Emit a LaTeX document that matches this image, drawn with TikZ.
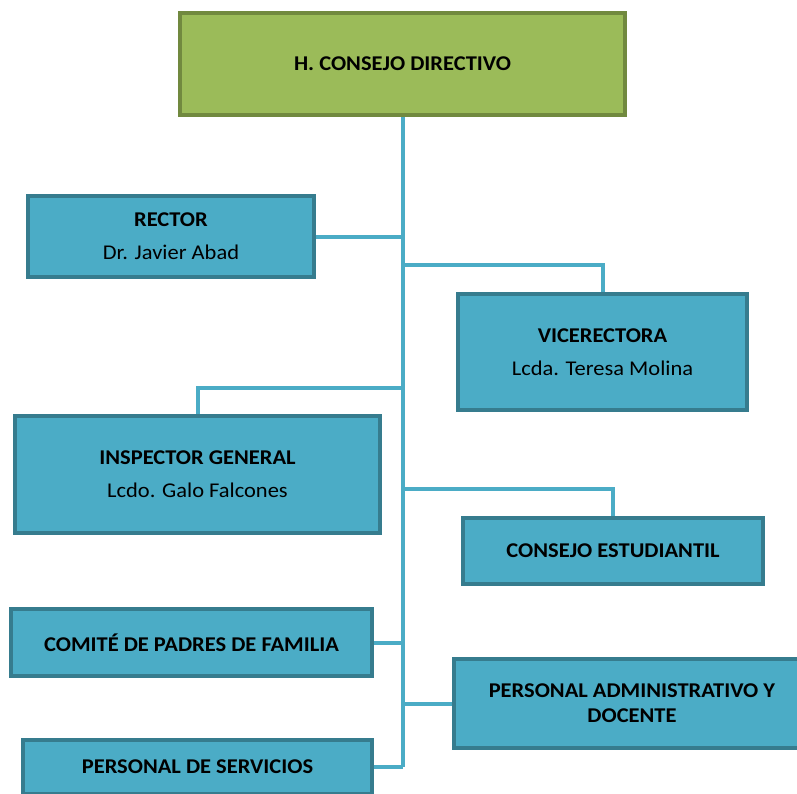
\documentclass[tikz,border=0pt]{standalone}
\usepackage{fontspec}
\setmainfont{Carlito}[FakeStretch=1.07]
\usepackage{tikz}

\definecolor{juntafondo}{HTML}{9BBB59}
\definecolor{juntaborde}{HTML}{71893F}
\definecolor{cargofondo}{HTML}{4BACC6}
\definecolor{cargoborde}{HTML}{367C8E}
\definecolor{enlacecolor}{HTML}{4BACC6}

\begin{document}
\begin{tikzpicture}[
  x=1pt, y=-1pt,
  cargo/.style={rectangle, draw=cargoborde, fill=cargofondo, line width=4pt,
    align=center, inner sep=0pt, font=\fontsize{21}{33}\selectfont},
  junta/.style={cargo, draw=juntaborde, fill=juntafondo},
  enlace/.style={draw=enlacecolor, line width=4pt}
]
\useasboundingbox (0,0) rectangle (797,793);

\node[junta, minimum width=445, minimum height=102] (consejo) at (402.5, 64) {\textbf{H. CONSEJO DIRECTIVO}};

\node[cargo, minimum width=286, minimum height=81] (rector) at (171, 236.5) {\textbf{RECTOR}\\Dr. Javier Abad};
\node[cargo, minimum width=289, minimum height=116] (vice) at (602.5, 352) {\textbf{VICERECTORA}\\Lcda. Teresa Molina};
\node[cargo, minimum width=365, minimum height=117] (inspector) at (197.5, 474.5) {\textbf{INSPECTOR GENERAL}\\Lcdo. Galo Falcones};
\node[cargo, minimum width=300, minimum height=66] (estudiantil) at (613, 551) {\textbf{CONSEJO ESTUDIANTIL}};
\node[cargo, minimum width=361, minimum height=67] (comite) at (191.5, 642.5) {\textbf{COMITÉ DE PADRES DE FAMILIA}};
\node[cargo, minimum width=356, minimum height=89, font=\fontsize{21}{25}\selectfont] (admin) at (632, 703.5) {\textbf{PERSONAL ADMINISTRATIVO Y}\\\textbf{DOCENTE}};
\node[cargo, minimum width=349, minimum height=54] (servicios) at (197.5, 767) {\textbf{PERSONAL DE SERVICIOS}};

\draw[enlace] (consejo.south) -- (consejo.south |- servicios.east);

\foreach \n/\lado in {rector/east, comite/east, admin/west, servicios/east} {
  \draw[enlace] (\n.\lado) -- (consejo.south |- \n.\lado);
}

\foreach \n/\y in {vice/265, inspector/388, estudiantil/489} {
  \draw[enlace] (\n.north) |- (consejo.south |- 0,\y);
}

\end{tikzpicture}
\end{document}
